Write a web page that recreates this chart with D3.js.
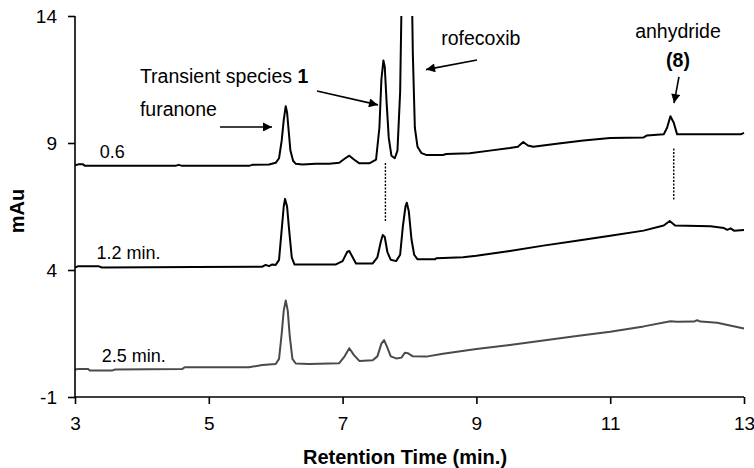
<!DOCTYPE html>
<html><head><meta charset="utf-8">
<script src="https://cdn.jsdelivr.net/npm/d3@7"></script>
<style>
html,body{margin:0;padding:0;background:#fff;}
svg{display:block;font-family:"Liberation Sans",Arial,sans-serif;}
</style></head>
<body><svg id="c" width="754" height="468"></svg>
<script>
// ---- data (retention time in min., absorbance in mAu) ----
const xTicks = [3, 5, 7, 9, 11, 13];
const yTicks = [-1, 4, 9, 14];
const xTitle = "Retention Time (min.)";
const yTitle = "mAu";

const trace06 = [
 [3.00,8.12],[3.05,8.16],[3.12,8.16],[3.15,8.10],[4.50,8.10],[4.55,8.14],[4.60,8.10],[5.60,8.10],[5.65,8.14],
 [5.90,8.15],[6.00,8.22],[6.05,8.40],[6.09,9.10],[6.12,9.90],[6.15,10.45],[6.17,10.20],[6.19,9.60],[6.22,8.70],
 [6.26,8.30],[6.30,8.18],[6.40,8.15],[6.60,8.18],[6.80,8.18],[6.95,8.22],[7.03,8.38],[7.10,8.50],[7.17,8.35],
 [7.25,8.20],[7.40,8.20],[7.50,8.35],[7.55,9.60],[7.58,11.50],[7.61,12.25],[7.63,12.00],[7.66,10.50],[7.69,9.20],
 [7.73,8.50],[7.78,8.40],[7.82,8.70],[7.86,11.00],[7.89,16.00],[8.03,16.00],[8.05,12.50],[8.08,9.60],[8.12,8.85],
 [8.18,8.60],[8.25,8.53],[8.50,8.53],[8.55,8.57],[8.90,8.60],[9.20,8.70],[9.50,8.80],[9.62,8.85],[9.70,9.04],
 [9.77,8.90],[9.85,8.85],[10.20,8.97],[10.60,9.10],[11.00,9.20],[11.50,9.22],[11.55,9.30],[11.80,9.34],
 [11.85,9.60],[11.90,10.05],[11.95,9.80],[12.00,9.34],[12.95,9.34],[13.00,9.40]
];
const trace12 = [
 [3.00,4.10],[3.05,4.15],[3.35,4.15],[3.40,4.10],[4.80,4.12],[5.80,4.13],[5.85,4.20],[5.90,4.15],[5.95,4.22],
 [6.00,4.20],[6.05,4.40],[6.09,5.60],[6.12,6.50],[6.14,6.80],[6.17,6.50],[6.20,5.60],[6.24,4.50],[6.28,4.22],
 [6.50,4.22],[6.90,4.22],[7.00,4.35],[7.07,4.72],[7.10,4.75],[7.15,4.50],[7.20,4.26],[7.45,4.26],[7.52,4.50],
 [7.57,5.10],[7.60,5.38],[7.63,5.30],[7.67,4.70],[7.72,4.40],[7.80,4.35],[7.86,4.60],[7.90,5.70],[7.94,6.50],
 [7.96,6.65],[7.99,6.30],[8.03,5.20],[8.07,4.60],[8.12,4.42],[8.38,4.42],[8.40,4.46],[8.80,4.50],[9.00,4.56],
 [9.50,4.75],[10.00,4.96],[10.50,5.15],[11.00,5.35],[11.50,5.55],[11.80,5.75],[11.89,5.93],[11.97,5.75],
 [12.50,5.72],[12.70,5.65],[12.75,5.58],[12.80,5.64],[12.85,5.55],[13.00,5.57]
];
const trace25 = [
 [3.00,0.08],[3.05,0.10],[3.20,0.10],[3.22,0.04],[3.55,0.04],[3.60,0.08],[4.60,0.10],[4.64,0.17],[5.60,0.17],
 [5.80,0.26],[6.00,0.30],[6.05,0.50],[6.09,1.50],[6.12,2.40],[6.15,2.80],[6.18,2.40],[6.21,1.40],[6.25,0.50],
 [6.30,0.32],[6.50,0.30],[6.95,0.33],[7.03,0.60],[7.10,0.92],[7.17,0.65],[7.25,0.42],[7.45,0.45],[7.52,0.60],
 [7.58,1.10],[7.62,1.24],[7.66,1.00],[7.72,0.60],[7.80,0.52],[7.88,0.55],[7.93,0.74],[7.98,0.72],[8.05,0.60],
 [8.25,0.59],[8.50,0.70],[9.00,0.89],[9.50,1.05],[10.00,1.22],[10.50,1.40],[11.00,1.57],[11.50,1.78],
 [11.90,1.98],[12.00,1.96],[12.25,1.97],[12.30,2.02],[12.35,1.97],[12.60,1.92],[13.00,1.70]
];
const traceNames = ["0.6", "1.2 min.", "2.5 min."];
const traceLabelPos = [[3.37,8.39],[3.32,4.43],[3.40,0.37]];

// annotations in data coordinates
const notes = [
 {t:3.97, v:11.35, parts:[["Transient species ",400],["1",700]], anchor:"start"},
 {t:3.97, v:10.06, parts:[["furanone",400]], anchor:"start"},
 {t:8.475, v:12.86, parts:[["rofecoxib",400]], anchor:"start"},
 {t:12.013, v:13.12, parts:[["anhydride",400]], anchor:"middle"},
 {t:12.013, v:12.00, parts:[["(8)",700]], anchor:"middle"}
];
const arrows = [
 [[5.167,9.63],[5.945,9.63]],
 [[6.617,11.05],[7.529,10.50]],
 [[9.009,12.27],[8.247,11.89]],
 [[12.028,11.60],[11.954,10.57]]
];
const dotted = [
 [[7.64,8.21],[7.64,5.89]],
 [[11.95,8.78],[11.95,6.72]]
];

// ---- drawing ----
const svg = d3.select("#c");
const L = 75, R = 744, T = 16, B = 397;
const x = d3.scaleLinear().domain([3,13]).range([L,R]);
const y = d3.scaleLinear().domain([-1,14]).range([B,T]);

svg.append("rect").attr("width",754).attr("height",468).attr("fill","#fff");
svg.append("defs").append("clipPath").attr("id","clip")
  .append("rect").attr("x",L).attr("y",T).attr("width",R-L+2).attr("height",B-T);
const mk = svg.select("defs").append("marker").attr("id","ah")
  .attr("viewBox","0 0 10 10").attr("refX",10).attr("refY",5)
  .attr("markerWidth",10).attr("markerHeight",9).attr("markerUnits","userSpaceOnUse")
  .attr("orient","auto");
mk.append("path").attr("d","M0,0L10,5L0,10z").attr("fill","#000");

const line = d3.line().x(d=>x(d[0])).y(d=>y(d[1]));
const traces = [trace06, trace12, trace25];
const colors = ["#000","#000","#4a4a4a"];
const g = svg.append("g").attr("clip-path","url(#clip)");
traces.forEach((tr,i)=>{
  g.append("path").attr("d",line(tr)).attr("fill","none")
   .attr("stroke",colors[i]).attr("stroke-width",2).attr("stroke-linejoin","round");
});

// axes
const fmt = d => String(d);
const ya = svg.append("g").attr("transform",`translate(${L},0)`)
  .call(d3.axisLeft(y).tickValues(yTicks).tickFormat(fmt).tickSize(7).tickPadding(11).tickSizeOuter(0));
const xa = svg.append("g").attr("transform",`translate(0,${B})`)
  .call(d3.axisBottom(x).tickValues(xTicks).tickFormat(fmt).tickSize(7).tickPadding(13).tickSizeOuter(0));
[ya,xa].forEach(a=>{
  a.select(".domain").attr("stroke","#000").attr("stroke-width",1.6);
  a.selectAll(".tick line").attr("stroke","#000").attr("stroke-width",1.6);
  a.selectAll(".tick text").attr("font-size",19).attr("fill","#000")
   .attr("font-family","'Liberation Sans',Arial,sans-serif");
});
ya.select(".domain").attr("d",`M0,${T}V${B}`);
xa.select(".domain").attr("d",`M${L},0H${R}`);

svg.append("text").attr("x",405).attr("y",464).attr("text-anchor","middle")
  .attr("font-size",20).attr("font-weight","bold").text(xTitle);
svg.append("text").attr("transform","translate(24,211) rotate(-90)").attr("text-anchor","middle")
  .attr("font-size",20).attr("font-weight","bold").text(yTitle);

// trace labels
traceNames.forEach((n,i)=>{
  svg.append("text").attr("x",x(traceLabelPos[i][0])).attr("y",y(traceLabelPos[i][1]))
    .attr("font-size",18).attr("fill","#000").text(n);
});

// annotations
notes.forEach(n=>{
  const t = svg.append("text").attr("x",x(n.t)).attr("y",y(n.v))
    .attr("text-anchor",n.anchor).attr("font-size",19.5).attr("fill","#000");
  n.parts.forEach(p=>t.append("tspan").attr("font-weight",p[1]).text(p[0]));
});
arrows.forEach(a=>{
  svg.append("line").attr("x1",x(a[0][0])).attr("y1",y(a[0][1]))
    .attr("x2",x(a[1][0])).attr("y2",y(a[1][1]))
    .attr("stroke","#000").attr("stroke-width",1.6).attr("marker-end","url(#ah)");
});
dotted.forEach(d=>{
  svg.append("line").attr("x1",x(d[0][0])).attr("y1",y(d[0][1]))
    .attr("x2",x(d[1][0])).attr("y2",y(d[1][1]))
    .attr("stroke","#000").attr("stroke-width",1.4).attr("stroke-dasharray","2,1.5");
});
</script></body></html>
